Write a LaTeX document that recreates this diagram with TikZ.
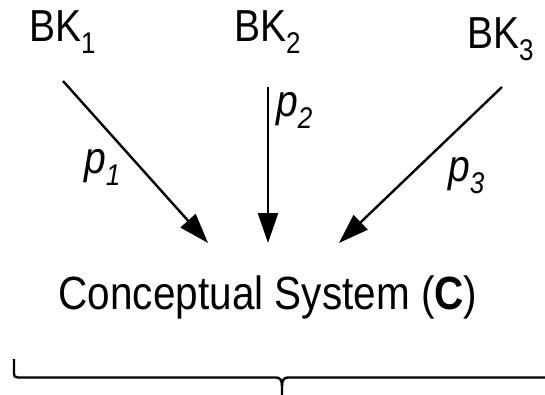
\documentclass[tikz,border=0pt]{standalone}
\usepackage{fontspec}
\setmainfont{Liberation Sans}
\usetikzlibrary{arrows.meta}
\newcommand\subsc[1]{\raisebox{-10pt}{\fontsize{26}{26}\selectfont #1}}
\newcommand\tallA[1]{\scalebox{1}[1.15]{#1}}
\begin{document}
\begin{tikzpicture}[x=1pt,y=-1pt,
  lbl/.style={inner sep=0pt, anchor=base west, font=\fontsize{39}{41}\selectfont},
  title/.style={inner sep=0pt, anchor=base, font=\fontsize{40.5}{42}\selectfont},
  conn/.style={line width=2.4pt, -{Triangle[length=30pt,width=20pt]}},
  bracepath/.style={line width=2.4pt, line join=round, line cap=butt}]
\useasboundingbox (0,0) rectangle (545,395);
\clip (0,0) rectangle (545,395);
% knowledge sources
\node[lbl] (bk1) at (29,42) {\tallA{BK\subsc{1}}};
\node[lbl] (bk2) at (234,42) {\tallA{BK\subsc{2}}};
\node[lbl] (bk3) at (467,49) {\tallA{BK\subsc{3}}};
% target
\node[title] (cs) at (268,309) {\tallA{Conceptual System (\textbf{C})}};
% arrow ends
\coordinate (s1) at (63,81);  \coordinate (e1) at (208,243);
\coordinate (s2) at (268,87); \coordinate (e2) at (268,243);
\coordinate (s3) at (502,87); \coordinate (e3) at (339,243);
\draw[conn] (s1) -- (e1);
\draw[conn] (s2) -- (e2);
\draw[conn] (s3) -- (e3);
% labels
\node[lbl] (p1) at (84,174) {\tallA{\itshape p\subsc{1}}};
\node[lbl] (p2) at (276,117) {\tallA{\itshape p\subsc{2}}};
\node[lbl] (p3) at (448,182) {\tallA{\itshape p\subsc{3}}};
% brace
\draw[bracepath] (14,359) -- (14,373) .. controls (14,376.5) and (15,377.5) .. (18,377.5)
  -- (276,377.5) .. controls (280,377.5) and (282,380) .. (282,386) -- (282,396);
\draw[bracepath] (282,386) .. controls (282,380) and (284,377.5) .. (288,377.5) -- (560,377.5);
\end{tikzpicture}
\end{document}
